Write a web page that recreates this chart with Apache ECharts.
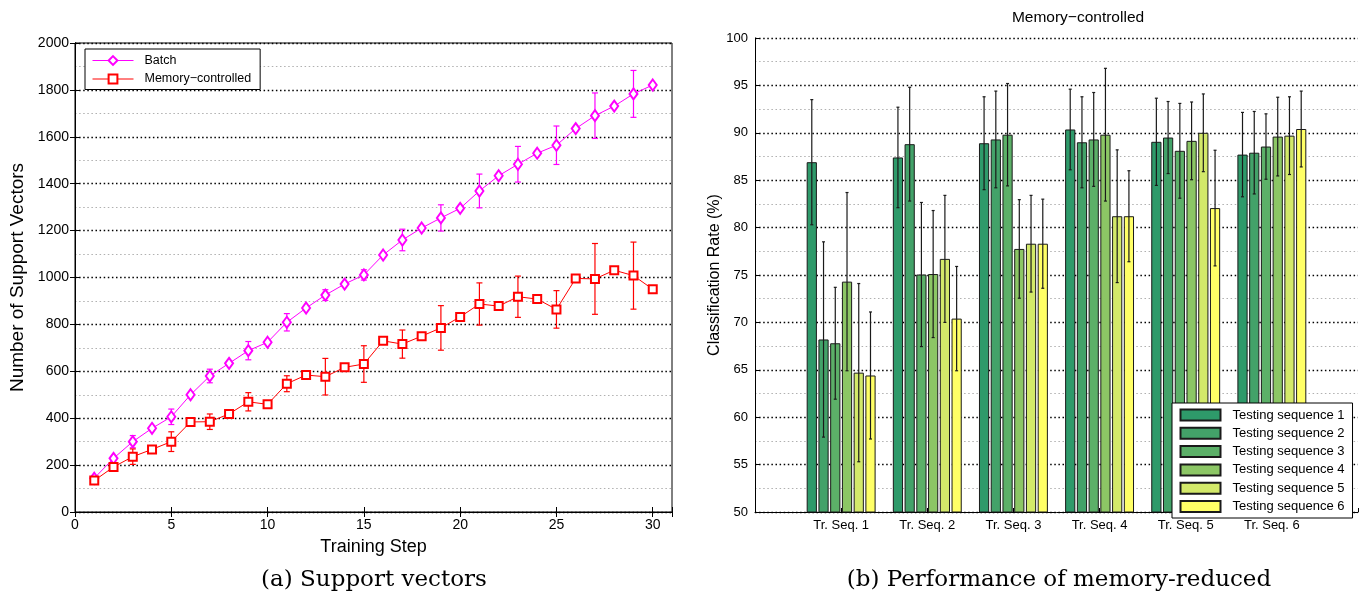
<!DOCTYPE html>
<html>
<head>
<meta charset="utf-8">
<script src="https://cdn.jsdelivr.net/npm/echarts@6/dist/echarts.min.js"></script>
<style>
  html, body { margin: 0; padding: 0; background: #fff; }
  #chart { width: 1366px; height: 601px; }
</style>
</head>
<body>
<div id="chart"></div>
<script>
// ---- left panel: support vectors per training step ----
var steps = [1,2,3,4,5,6,7,8,9,10,11,12,13,14,15,16,17,18,19,20,21,22,23,24,25,26,27,28,29,30];
var batchVals = [144,229,300,357,406,500,580,634,688,724,809,870,925,972,1011,1096,1160,1211,1254,1295,1369,1434,1483,1530,1564,1635,1690,1731,1783,1821];
var memVals = [134,192,236,267,300,384,385,418,470,459,547,584,577,617,631,730,716,750,785,832,887,878,918,908,864,996,994,1031,1008,950];
// half-width of the error bars, only on odd steps
var batchErr = [10,null,26,null,33,null,29,null,39,null,37,null,23,null,22,null,46,null,56,null,72,null,76,null,82,null,97,null,100,null];
var memErr = [10,null,33,null,42,null,33,null,39,null,34,null,78,null,78,null,60,null,95,null,90,null,88,null,80,null,151,null,143,null];
var xTicks = [0,5,10,15,20,25,30];

// ---- right panel: classification rate ----
var trainSeqs = ['Tr. Seq. 1','Tr. Seq. 2','Tr. Seq. 3','Tr. Seq. 4','Tr. Seq. 5','Tr. Seq. 6'];
var testNames = ['Testing sequence 1','Testing sequence 2','Testing sequence 3','Testing sequence 4','Testing sequence 5','Testing sequence 6'];
var ts1 = [86.9, 87.4, 88.9, 90.35, 89.05, 87.7];
var ts2 = [68.2, 88.8, 89.3, 89.0, 89.5, 87.9];
var ts3 = [67.8, 75.05, 89.8, 89.3, 88.1, 88.55];
var ts4 = [74.3, 75.1, 77.75, 89.8, 89.15, 89.6];
var ts5 = [64.7, 76.7, 78.3, 81.2, 90.0, 89.7];
var ts6 = [64.4, 70.4, 78.3, 81.2, 82.06, 90.4];
var er1 = [6.6, 5.3, 4.9, 4.25, 4.6, 4.45];
var er2 = [10.3, 6.0, 5.1, 4.8, 3.8, 4.35];
var er3 = [5.9, 7.6, 5.4, 4.95, 5.0, 3.45];
var er4 = [9.4, 6.7, 5.2, 7.0, 4.1, 4.15];
var er5 = [9.4, 6.7, 5.1, 7.0, 4.1, 4.1];
var er6 = [6.7, 5.5, 4.7, 4.8, 6.1, 4.0];
var greens = ['#2e9a6a','#43a269','#5cb068','#8cc665','#d3e96a','#ffff66'];

var chart = echarts.init(document.getElementById('chart'), null, { renderer: 'canvas' });

var FONT = 'Liberation Sans';
var majorGrid = { show: true, lineStyle: { color: '#000', width: 1.3, type: [1.5, 2.6] } };
var minorGrid = { show: true, lineStyle: { color: '#b0b0b0', width: 1.2, type: [1.5, 2.6] } };

function errData(vals, errs) {
  var out = [];
  for (var i = 0; i < vals.length; i++) {
    if (errs[i] != null) out.push([steps[i], vals[i] - errs[i], vals[i] + errs[i]]);
  }
  return out;
}

function lineErrRender(color) {
  return function (params, api) {
    var x = api.value(0);
    var top = api.coord([x, api.value(2)]);
    var bot = api.coord([x, api.value(1)]);
    var cap = 3;
    var st = { stroke: color, lineWidth: 1.2 };
    return { type: 'group', children: [
      { type: 'line', shape: { x1: top[0], y1: top[1], x2: bot[0], y2: bot[1] }, style: st },
      { type: 'line', shape: { x1: top[0] - cap, y1: top[1], x2: top[0] + cap, y2: top[1] }, style: st },
      { type: 'line', shape: { x1: bot[0] - cap, y1: bot[1], x2: bot[0] + cap, y2: bot[1] }, style: st }
    ]};
  };
}

// bar offset inside a group, same maths as barCategoryGap 20% / barGap 15%
function barErrRender(idx) {
  return function (params, api) {
    var c = api.value(0);
    var band = api.coord([2, 50])[0] - api.coord([1, 50])[0];
    var groupW = band * 0.8;
    var w = groupW / (6 + 5 * 0.15);
    var cx = api.coord([c, 50])[0] - groupW / 2 + idx * w * 1.15 + w / 2;
    var top = api.coord([c, api.value(2)])[1];
    var bot = api.coord([c, api.value(1)])[1];
    var st = { stroke: '#1a1a1a', lineWidth: 1.2 };
    return { type: 'group', children: [
      { type: 'line', shape: { x1: cx, y1: top, x2: cx, y2: bot }, style: st },
      { type: 'line', shape: { x1: cx - 1.5, y1: top, x2: cx + 1.5, y2: top }, style: st },
      { type: 'line', shape: { x1: cx - 1.5, y1: bot, x2: cx + 1.5, y2: bot }, style: st }
    ]};
  };
}

var tsVals = [ts1, ts2, ts3, ts4, ts5, ts6];
var tsErrs = [er1, er2, er3, er4, er5, er6];
var catData = [''].concat(trainSeqs).concat(['']);

var series = [
  {
    name: 'Batch', type: 'line', xAxisIndex: 0, yAxisIndex: 0,
    data: steps.map(function (s, i) { return [s, batchVals[i]]; }),
    symbol: 'emptyDiamond', symbolSize: [8, 11],
    itemStyle: { color: '#ff00ff', borderWidth: 1 }, lineStyle: { color: '#ff00ff', width: 1 }, z: 3
  },
  {
    name: 'Memory\u2212controlled', type: 'line', xAxisIndex: 0, yAxisIndex: 0,
    data: steps.map(function (s, i) { return [s, memVals[i]]; }),
    symbol: 'emptyRect', symbolSize: 8,
    itemStyle: { color: '#ff0000', borderWidth: 1 }, lineStyle: { color: '#ff0000', width: 1 }, z: 3
  },
  { name: 'batchErr', type: 'custom', xAxisIndex: 0, yAxisIndex: 0, renderItem: lineErrRender('#ff00ff'), data: errData(batchVals, batchErr), z: 3 },
  { name: 'memErr', type: 'custom', xAxisIndex: 0, yAxisIndex: 0, renderItem: lineErrRender('#ff0000'), data: errData(memVals, memErr), z: 3 }
];

for (var k = 0; k < 6; k++) {
  series.push({
    name: testNames[k], type: 'bar', xAxisIndex: 2, yAxisIndex: 2,
    data: [null].concat(tsVals[k]).concat([null]),
    barCategoryGap: '20%', barGap: '15%',
    itemStyle: { color: greens[k], borderColor: '#1a1a1a', borderWidth: 1 }
  });
}
for (var k2 = 0; k2 < 6; k2++) {
  series.push({
    name: 'err' + k2, type: 'custom', xAxisIndex: 2, yAxisIndex: 2, z: 3,
    renderItem: barErrRender(k2),
    data: tsVals[k2].map(function (v, j) { return [j + 1, v - tsErrs[k2][j], v + tsErrs[k2][j]]; })
  });
}

chart.setOption({
  animation: false,
  backgroundColor: '#fff',
  textStyle: { fontFamily: FONT },
  grid: [
    { left: 75, right: 694, top: 43, bottom: 89, show: true, borderColor: '#000', borderWidth: 1, backgroundColor: 'transparent' },
    { left: 755, right: 8, top: 38, bottom: 89 }
  ],
  legend: [
    {
      data: ['Batch', 'Memory\u2212controlled'],
      orient: 'vertical', left: 85, top: 49,
      backgroundColor: '#fff', borderColor: '#000', borderWidth: 1,
      padding: [5, 9, 4, 7], itemWidth: 41, itemHeight: 11, itemGap: 5.5,
      itemStyle: { borderWidth: 1 }, lineStyle: { width: 1 },
      textStyle: { fontFamily: FONT, fontSize: 12.5, color: '#000', padding: [0, 0, 0, 6] }
    },
    {
      data: testNames, icon: 'rect',
      orient: 'vertical', left: 1172, top: 403,
      backgroundColor: '#fff', borderColor: '#000', borderWidth: 1,
      padding: [5.5, 8, 5, 7.5], itemWidth: 40, itemHeight: 11, itemGap: 5.3,
      textStyle: { fontFamily: FONT, fontSize: 13, color: '#000', padding: [0, 0, 0, 7] }
    }
  ],
  xAxis: [
    {
      type: 'value', gridIndex: 0, position: 'bottom', min: 0, max: 31, interval: 5,
      name: 'Training Step', nameLocation: 'middle', nameGap: 26,
      nameTextStyle: { fontFamily: FONT, fontSize: 18, color: '#000' },
      axisLine: { lineStyle: { color: '#000' } },
      axisTick: { inside: true, length: 5, lineStyle: { color: '#000' } },
      axisLabel: { fontFamily: FONT, fontSize: 14, color: '#000', margin: 6,
        formatter: function (v) { return xTicks.indexOf(v) >= 0 ? String(v) : ''; } },
      splitLine: { show: false }
    },
    {
      type: 'value', gridIndex: 0, position: 'top', min: 0, max: 31, interval: 5,
      axisLine: { lineStyle: { color: '#000' } },
      axisTick: { inside: true, length: 5, lineStyle: { color: '#000' } },
      axisLabel: { show: false }, splitLine: { show: false }
    },
    {
      type: 'category', gridIndex: 1, data: catData, boundaryGap: false,
      axisLine: { lineStyle: { color: '#000' } },
      axisTick: { inside: true, length: 4, lineStyle: { color: '#000' } },
      axisLabel: { fontFamily: FONT, fontSize: 13, color: '#000', margin: 7, interval: 0 },
      splitLine: { show: false }
    }
  ],
  yAxis: [
    {
      type: 'value', gridIndex: 0, position: 'left', min: 0, max: 2000, interval: 200,
      name: 'Number of Support Vectors', nameLocation: 'middle', nameGap: 48,
      nameTextStyle: { fontFamily: FONT, fontSize: 19, color: '#000' },
      axisLine: { lineStyle: { color: '#000' } },
      axisTick: { inside: true, length: 5, lineStyle: { color: '#000' } },
      axisLabel: { fontFamily: FONT, fontSize: 14, color: '#000', margin: 6,
        formatter: function (v) { return String(v); } },
      splitLine: majorGrid,
      minorTick: { show: false, splitNumber: 2 },
      minorSplitLine: minorGrid
    },
    {
      type: 'value', gridIndex: 0, position: 'right', min: 0, max: 2000, interval: 200,
      axisLine: { lineStyle: { color: '#000' } },
      axisTick: { inside: true, length: 5, lineStyle: { color: '#000' } },
      axisLabel: { show: false }, splitLine: { show: false }
    },
    {
      type: 'value', gridIndex: 1, min: 50, max: 100, interval: 5,
      name: 'Classification Rate (%)', nameLocation: 'middle', nameGap: 31,
      nameTextStyle: { fontFamily: FONT, fontSize: 16, color: '#000' },
      axisLine: { show: true, lineStyle: { color: '#000' } },
      axisTick: { show: true, inside: true, length: 5, lineStyle: { color: '#000' } },
      axisLabel: { fontFamily: FONT, fontSize: 13, color: '#000', margin: 7 },
      splitLine: majorGrid,
      minorTick: { show: false, splitNumber: 2 },
      minorSplitLine: minorGrid
    }
  ],
  graphic: [
    { type: 'text', x: 1078, y: 18, style: { text: 'Memory\u2212controlled', font: '15.5px "Liberation Sans"', fill: '#000', textAlign: 'center', textVerticalAlign: 'middle' } },
    { type: 'text', x: 374, y: 580, style: { text: '(a) Support vectors', font: '23px "DejaVu Serif"', fill: '#000', textAlign: 'center', textVerticalAlign: 'middle' } },
    { type: 'text', x: 1059, y: 580, style: { text: '(b) Performance of memory-reduced', font: '23px "DejaVu Serif"', fill: '#000', textAlign: 'center', textVerticalAlign: 'middle' } }
  ],
  series: series
});
</script>
</body>
</html>
